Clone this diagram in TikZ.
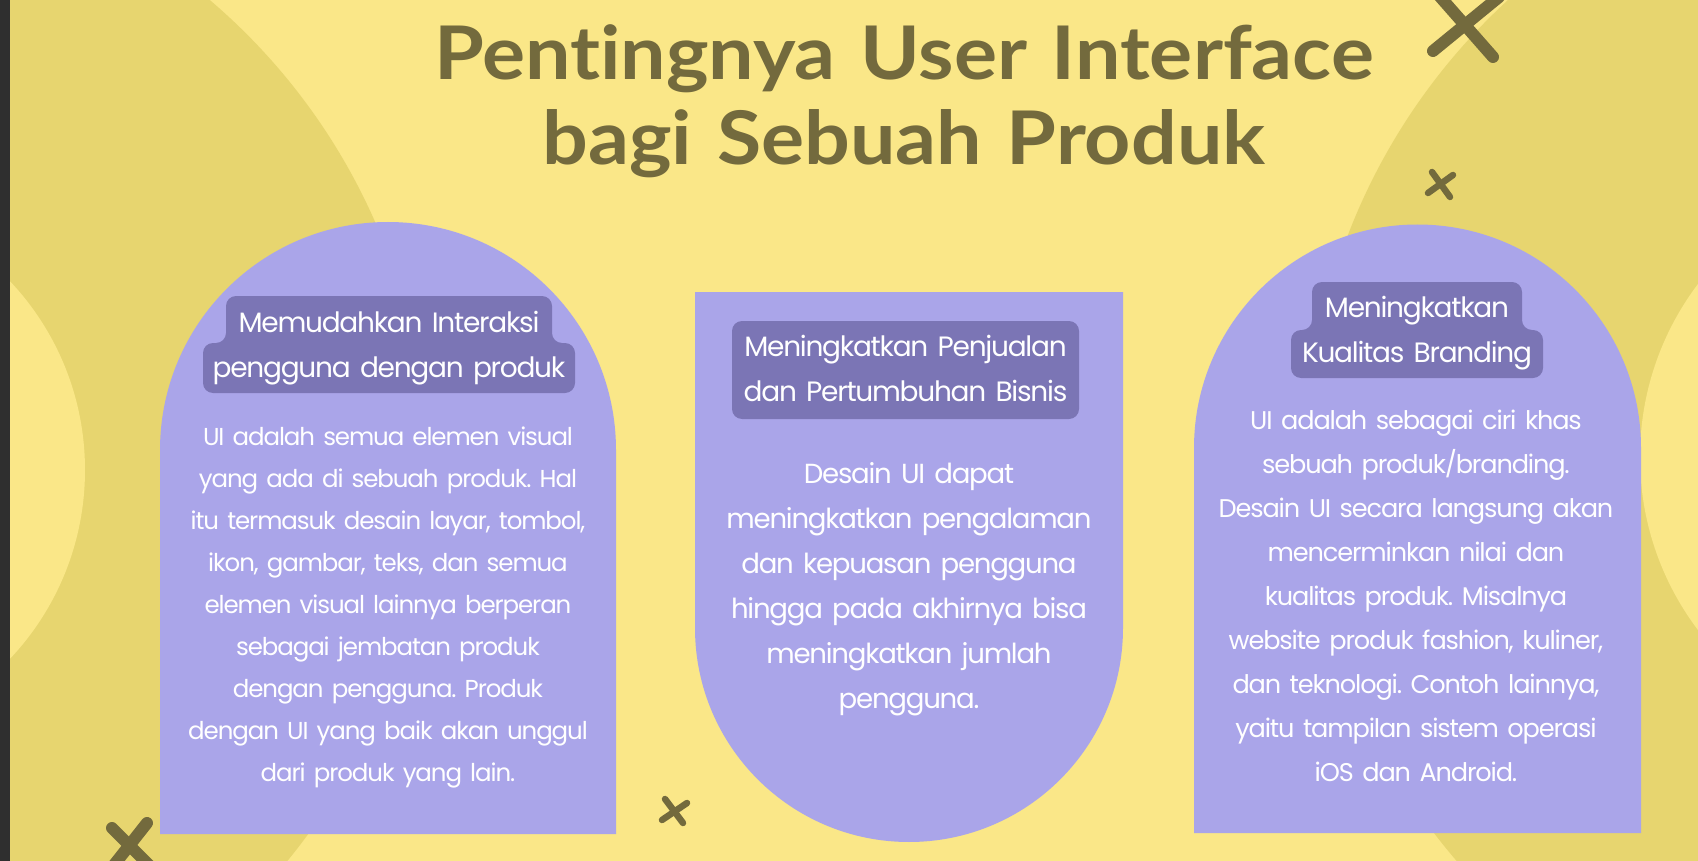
\documentclass[tikz,border=0pt]{standalone}
\usepackage{fontspec}
\setmainfont{Poppins}[LetterSpace=-4.5]
\newfontfamily\titlefont{Lato}[FakeStretch=1.09, Ligatures=NoCommon]
\usetikzlibrary{positioning}
\frenchspacing

\definecolor{bgyellow}{HTML}{FAE788}
\definecolor{darkyellow}{HTML}{E7D56F}
\definecolor{cardpurple}{HTML}{AAA5E9}
\definecolor{tagpurple}{HTML}{7B75B5}
\definecolor{olive}{HTML}{736A3D}
\definecolor{editorgrey}{HTML}{2F2F2F}

\begin{document}
\begin{tikzpicture}
[x=1pt, y=1pt,
card/.style={fill=cardpurple},
tag/.style={fill=tagpurple, rounded corners=10pt},
cross/.style={draw=olive, line cap=round},
tagtext/.style={text=white, align=center, text width=400pt, inner sep=0pt, anchor=base, font=\fontsize{28}{45}\selectfont},
bodytext/.style={text=white, align=center, text width=440pt, inner sep=0pt, anchor=base},
]
    \useasboundingbox (0,0) rectangle (1698,-861);
    \clip (0,0) rectangle (1698,-861);
    \fill[bgyellow] (0,0) rectangle (1698,-861);

    % background circles
    \fill[darkyellow] (-190,-470) circle[radius=617pt];
    \fill[bgyellow] (-190,-470) circle[radius=275pt];
    \fill[darkyellow] (1927,-457) circle[radius=620pt];
    \fill[bgyellow] (1927,-457) circle[radius=287pt];

    % crosses
    \draw[cross, line width=12pt] (1433,-51) -- (1499,3);
    \draw[cross, line width=12pt] (1493,-57) -- (1435,9);
    \draw[cross, line width=6.5pt] (1428,-193) -- (1453,-175);
    \draw[cross, line width=6.5pt] (1432,-172) -- (1450,-197);
    \draw[cross, line width=6.5pt] (665,-799) -- (683,-823);
    \draw[cross, line width=6.5pt] (687,-803) -- (662,-820);
    \draw[cross, line width=12pt] (112,-828) -- (156,-872);
    \draw[cross, line width=12pt] (147,-823) -- (110,-870);

    % cards
    \fill[card] (160,-834) -- (160,-450) arc (180:0:228pt) -- (616,-834) -- cycle;
    \fill[card] (695,-292) -- (1123,-292) -- (1123,-628) arc (0:-180:214pt) -- cycle;
    \fill[card] (1194,-833) -- (1194,-448) arc (180:0:223.5pt) -- (1641,-833) -- cycle;

    % tags
    \fill[tag] (226,-296) -- (552,-296) -- (552,-343) -- (575,-343) -- (575,-393)
        -- (203,-393) -- (203,-343) -- (226,-343) -- cycle;
    \fill[tag] (732,-321) rectangle (1079,-419);
    \fill[tag] (1312,-282) -- (1522,-282) -- (1522,-330) -- (1543,-330) -- (1543,-378)
        -- (1291,-378) -- (1291,-330) -- (1312,-330) -- cycle;

    \node (head1) [tagtext] at (389,-332) {Memudahkan Interaksi\\pengguna dengan produk};
    \node (head2) [tagtext] at (905.5,-356) {Meningkatkan Penjualan\\dan Pertumbuhan Bisnis};
    \node (head3) [tagtext] at (1417,-317) {Meningkatkan\\Kualitas Branding};

    \node (body1) [bodytext, font=\fontsize{24.5}{42}\selectfont] at (388,-445) {UI adalah semua elemen visual\\
        yang ada di sebuah produk. Hal\\itu termasuk desain layar, tombol,\\
        ikon, gambar, teks, dan semua\\elemen visual lainnya berperan\\
        sebagai jembatan produk\\dengan pengguna. Produk\\
        dengan UI yang baik akan unggul\\dari produk yang lain.};
    \node (body2) [bodytext, font=\fontsize{27.6}{45}\selectfont] at (909,-483) {Desain UI dapat\\
        meningkatkan pengalaman\\dan kepuasan pengguna\\hingga pada akhirnya bisa\\
        meningkatkan jumlah\\pengguna.};
    \node (body3) [bodytext, font=\fontsize{25.6}{44}\selectfont] at (1416,-429) {UI adalah sebagai ciri khas\\
        sebuah produk/branding.\\Desain UI secara langsung akan\\
        mencerminkan nilai dan\\kualitas produk. Misalnya\\
        website produk fashion, kuliner,\\dan teknologi. Contoh lainnya,\\
        yaitu tampilan sistem operasi\\iOS dan Android.};

    % title
    \node (title) [text=olive, align=center, text width=1100pt, inner sep=0pt, anchor=base,
        font=\titlefont\bfseries\fontsize{74}{85}\selectfont] at (904,-80)
        {Pentingnya User Interface\\bagi Sebuah Produk};

    \fill[editorgrey] (0,0) rectangle (10,-861);
\end{tikzpicture}
\end{document}
